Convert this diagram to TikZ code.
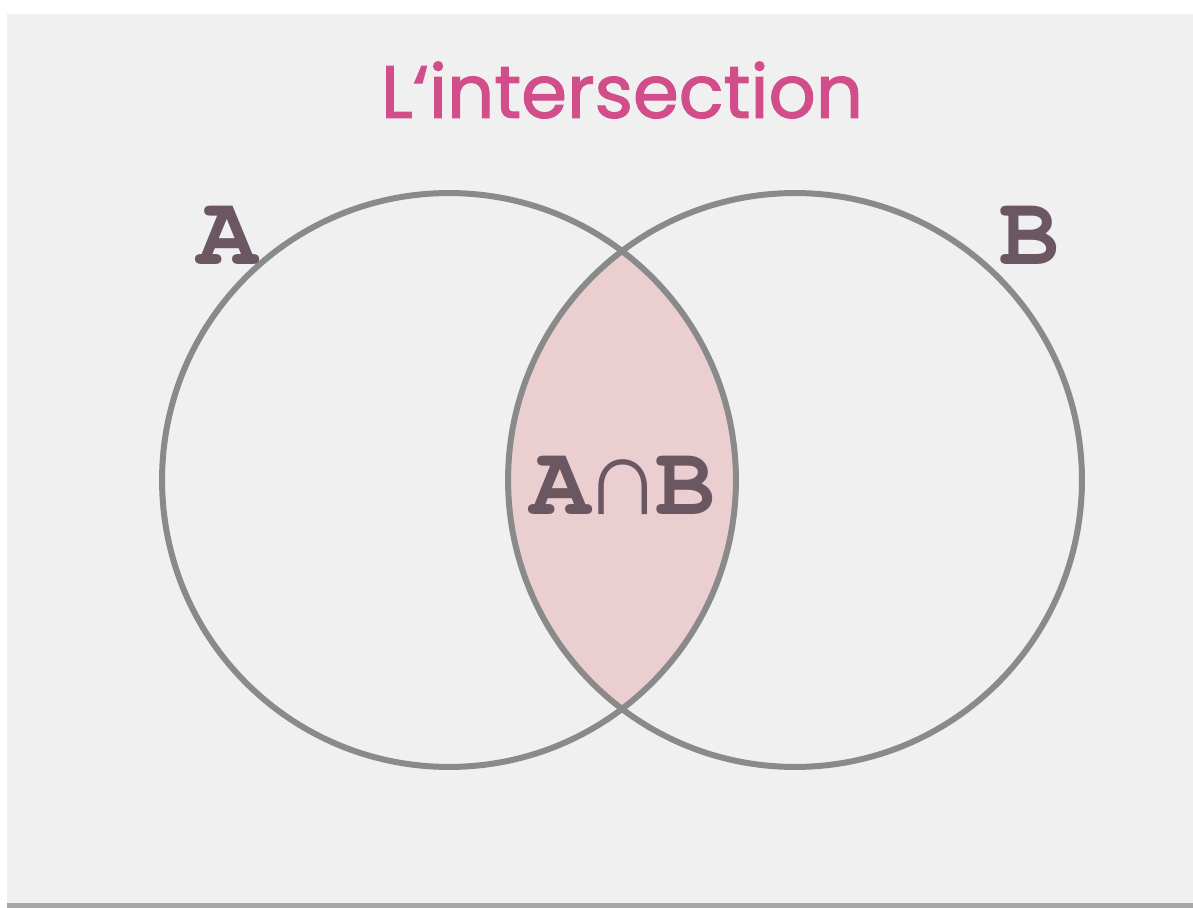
\documentclass[tikz,border=0pt]{standalone}
\usepackage{fontspec}
\newfontfamily\headfont[FakeBold=1.6]{Poppins}
\newfontfamily\venntt{TeX Gyre Cursor}
\newfontfamily\capfont{Liberation Mono}
\definecolor{card}{HTML}{F0F0F0}
\definecolor{ringgray}{HTML}{8A8A8A}
\definecolor{lenspink}{HTML}{EBCFD0}
\definecolor{titlepink}{HTML}{D24E8A}
\definecolor{setmauve}{HTML}{6B5761}
\begin{document}
\begin{tikzpicture}[x=0.02cm, y=-0.02cm]
\tikzset{ring/.style={draw=ringgray, line width=0.12cm, shape=circle, minimum size=11.48cm, inner sep=0pt},
setlabel/.style={text=setmauve, font=\venntt\bfseries\fontsize{57}{57}\selectfont, inner sep=0pt}}
\useasboundingbox (0,0) rectangle (1193,908);
\fill[white] (0,0) rectangle (1193,908);
\fill[gray!70] (7,16) rectangle (1193,908);
\fill[card] (7,14) rectangle (1193,903);
% lens
\begin{scope}
\clip (449,480) circle (287);
\fill[lenspink] (795,480) circle (287);
\end{scope}
\node[ring] (cA) at (449, 480) {};
\node[ring] (cB) at (795, 480) {};
\node[text=titlepink, font=\headfont\fontsize{42}{42}\selectfont] (title) at (622, 90) {L‘intersection};
\node[setlabel] (lA) at (228, 235) {A};
\node[setlabel] (lB) at (1030, 235) {B};
\node[setlabel] (lAB) at (623, 485) {A{\capfont\fontsize{62}{62}\selectfont ∩}B};
\end{tikzpicture}
\end{document}
